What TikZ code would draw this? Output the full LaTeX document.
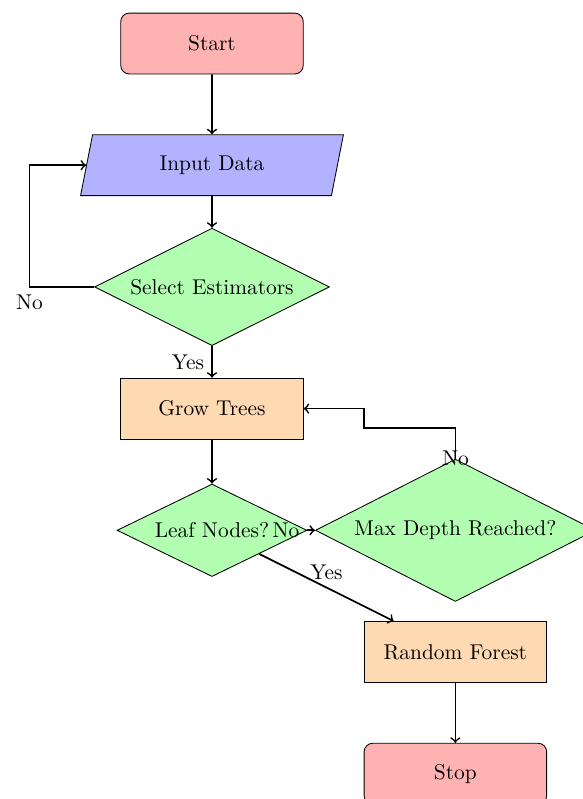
\documentclass[tikz,border=0pt]{standalone}
\usetikzlibrary{shapes.geometric}
\begin{document}
\begin{tikzpicture}[
  startstop/.style={rectangle, rounded corners, minimum width=3cm, minimum height=1cm, text centered, draw=black, fill=red!30},
  io/.style={trapezium, trapezium left angle=70, trapezium right angle=110, trapezium stretches body, minimum width=4.32cm, minimum height=1cm, text centered, draw=black, fill=blue!30},
  process/.style={rectangle, minimum width=3cm, minimum height=1cm, text centered, draw=black, fill=orange!30},
  decision/.style={diamond, aspect=2, inner sep=0pt, text centered, draw=black, fill=green!30},
  arrow/.style={thick, ->}
]
\useasboundingbox (-3.484,-12.416) rectangle (6.097,0.715);
\clip (-3.484,-12.416) rectangle (6.097,0.715);

% process steps
\node (start) [startstop] at (0,0) {Start};
\node (in) [io] at (0,-2) {Input Data};
\node (sel) [decision, minimum width=3.86cm, minimum height=1.93cm] at (0,-4) {Select Estimators};
\node (grow) [process] at (0,-6) {Grow Trees};
\node (leaf) [decision, minimum width=3.12cm, minimum height=1.52cm] at (0,-8) {Leaf Nodes?};
\node (maxd) [decision, minimum width=4.6cm, minimum height=2.34cm] at (4,-8) {Max Depth Reached?};
\node (rf) [process] at (4,-10) {Random Forest};
\node (stop) [startstop] at (4,-12) {Stop};

% connectors
\coordinate (loopcorner) at (-3,-4);
\coordinate (backcorner) at (2.5,-6);
\draw[arrow] (start) -- (in);
\draw[arrow] (in) -- (sel);
\draw[arrow] (sel) -- (grow) node[midway, left] {Yes};
\draw[arrow] (sel.west) -- (loopcorner) node[below] {No} |- (in.west);
\draw[arrow] (grow) -- (leaf);
\draw[arrow] (leaf.east) -- (maxd.west) node[pos=0, left] {No};
\draw[arrow] (leaf) -- (rf) node[midway, above] {Yes};
\draw[arrow] (maxd.north) -- ++(0,0.5) -| (backcorner) -- (grow.east);
\node at (maxd.north) {No};
\draw[arrow] (rf) -- (stop);
\end{tikzpicture}
\end{document}
